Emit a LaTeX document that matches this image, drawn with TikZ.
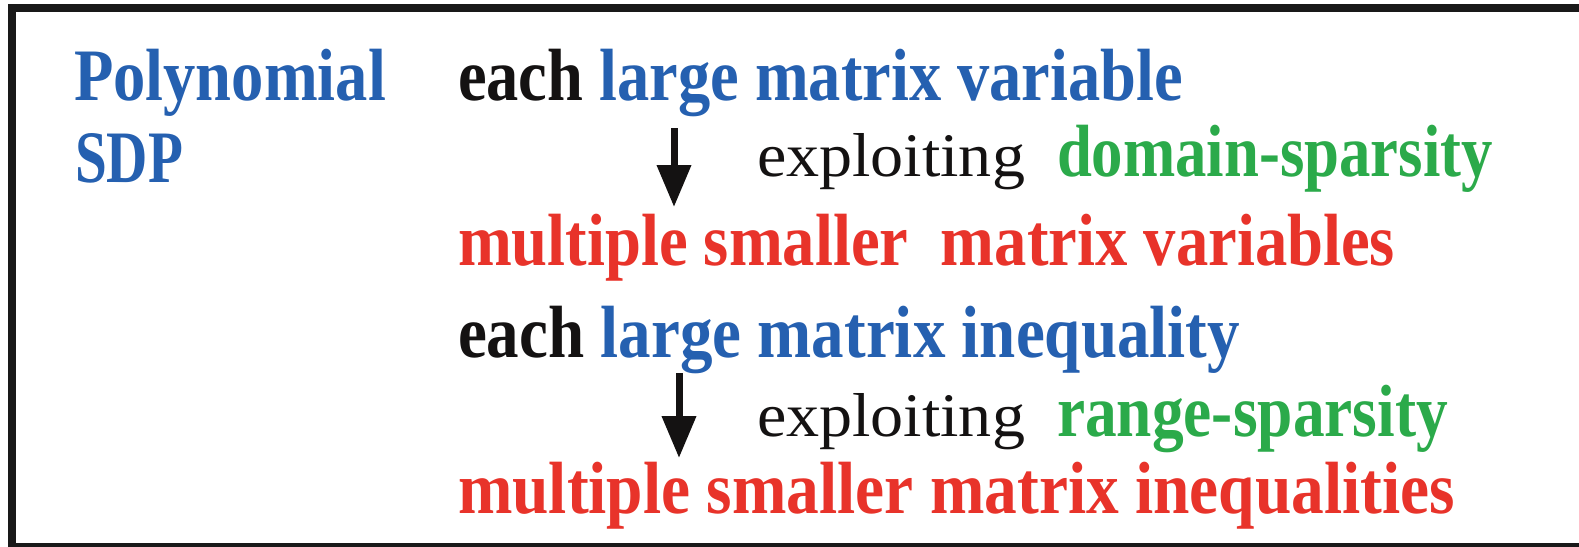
\documentclass[tikz,border=0pt]{standalone}
\usepackage{fontspec}
\usepackage{graphicx}
\usetikzlibrary{arrows.meta}
\newfontfamily\slab{Liberation Serif}
\definecolor{sdpblue}{RGB}{37,96,176}
\definecolor{sdpred}{RGB}{232,51,42}
\definecolor{sdpgreen}{RGB}{43,170,74}
\definecolor{sdpblack}{RGB}{20,18,18}
\newcommand{\fitto}[2]{\resizebox{#1}{\height}{#2}}
\newcommand{\bigbold}{\slab\bfseries\fontsize{74}{74}\selectfont}
\newcommand{\plainbig}{\slab\fontsize{62}{62}\selectfont}
\tikzset{
  txt/.style={anchor=base west, inner sep=0pt, outer sep=0pt},
  arr/.style={-{Triangle[length=42pt,width=33pt]}, line width=7pt, draw=sdpblack},
  frame/.style={line width=8pt, draw=black!90}
}
\begin{document}
\begin{tikzpicture}[x=1pt,y=-1pt]
\useasboundingbox (0,0) rectangle (1579,546);
\begin{scope}
\clip (0,0) rectangle (1579,546);
\draw[frame] (1600,8) -- (12,8) -- (12,547) -- (1600,547);
\end{scope}
\node[txt] (poly) at (74,100) {\fitto{312pt}{\bigbold\color{sdpblue}Polynomial}};
\node[txt] (sdp) at (75,182) {\fitto{108pt}{\bigbold\color{sdpblue}SDP}};
\node[txt] (l1) at (458,100) {\fitto{725pt}{\bigbold\color{sdpblack}each \color{sdpblue}large matrix variable}};
\node[txt] (e1) at (757,176) {\fitto{268pt}{\plainbig\color{sdpblack}exploiting}};
\node[txt] (d1) at (1057,176) {\fitto{436pt}{\bigbold\color{sdpgreen}domain-sparsity}};
\node[txt] (l3) at (458,265) {\fitto{937pt}{\bigbold\color{sdpred}multiple smaller~ matrix variables}};
\node[txt] (l4) at (458,357) {\fitto{782pt}{\bigbold\color{sdpblack}each \color{sdpblue}large matrix inequality}};
\node[txt] (e2) at (757,436) {\fitto{268pt}{\plainbig\color{sdpblack}exploiting}};
\node[txt] (d2) at (1057,436) {\fitto{391pt}{\bigbold\color{sdpgreen}range-sparsity}};
\node[txt] (l6) at (458,513) {\fitto{997pt}{\bigbold\color{sdpred}multiple smaller matrix inequalities}};
\coordinate (a1s) at (674,128);
\coordinate (a1e) at (674,207);
\coordinate (a2s) at (679,373);
\coordinate (a2e) at (679,458);
\draw[arr] (a1s) -- (a1e);
\draw[arr] (a2s) -- (a2e);
\end{tikzpicture}
\end{document}
